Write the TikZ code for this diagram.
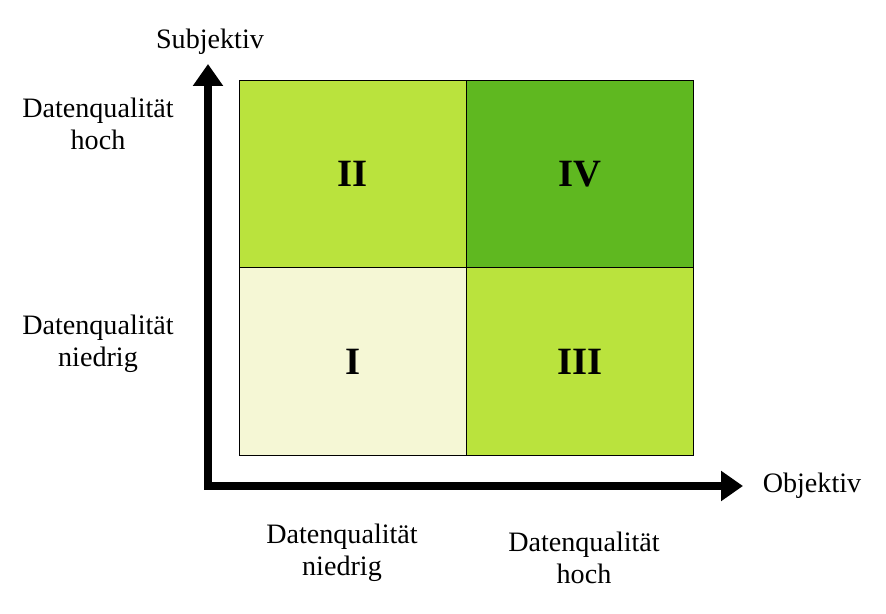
\documentclass[tikz,border=0pt]{standalone}
\usepackage{fontspec}
\setmainfont{Liberation Serif}
\usepackage{xcolor}
\usetikzlibrary{arrows.meta}
\definecolor{lowlow}{HTML}{F5F7D5}
\definecolor{midgreen}{HTML}{BAE33D}
\definecolor{highhigh}{HTML}{5FB820}

\begin{document}
\begin{tikzpicture}[x=0.02cm, y=-0.02cm, >={Triangle[length=0.44cm, width=0.58cm]},
  quad/.style={draw, line width=0.8pt, minimum width=4.54cm, minimum height=3.75cm, inner sep=0pt,
    font=\fontsize{22}{26}\selectfont\bfseries},
  axislabel/.style={align=center, font=\fontsize{16}{18.5}\selectfont}]
\useasboundingbox (0,0) rectangle (886,614);
% quadrants
\node[quad, fill=lowlow] (q1) at (353,361.5) {I};
\node[quad, fill=midgreen] (q2) at (353,174) {II};
\node[quad, fill=midgreen] (q3) at (580,361.5) {III};
\node[quad, fill=highhigh] (q4) at (580,174) {IV};

% axes
\coordinate (origin) at (208,486);
\coordinate (ytip) at (208,64);
\coordinate (xtip) at (743,486);
\draw[->, line width=0.16cm] ([yshift=-0.08cm]origin) -- (ytip);
\draw[->, line width=0.16cm] ([xshift=-0.08cm]origin) -- (xtip);
\node[axislabel] (ylab) at (210,42) {Subjektiv};
\node[axislabel] (xlab) at (812,486) {Objektiv};

% scale labels
\node[axislabel] (yhigh) at (98,124) {Datenqualität\\hoch};
\node[axislabel] (ylow) at (98,344) {Datenqualität\\niedrig};
\node[axislabel] (xlow) at (342,553) {Datenqualität\\niedrig};
\node[axislabel] (xhigh) at (584,558) {Datenqualität\\hoch};
\end{tikzpicture}
\end{document}
